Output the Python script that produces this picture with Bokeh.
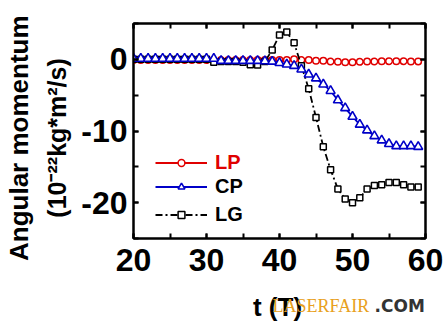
import math
from bokeh.plotting import figure
from bokeh.layouts import column
from bokeh.models import Range1d, LinearAxis, SingleIntervalTicker, Legend, LegendItem
from bokeh.core.properties import value
from bokeh.embed import file_html
from bokeh.resources import INLINE

# ---- data ----
t = list(range(20, 60))
lp = [-0.1] * 20 + [-0.1, -0.1, 0.0, -0.1, -0.1, -0.2, -0.2, -0.3, -0.35, -0.4,
                    -0.4, -0.35, -0.3, -0.3, -0.25, -0.25, -0.25, -0.25, -0.3, -0.3]
cp = [0.1] * 12 + [-0.2, -0.2, -0.2, -0.2, -0.2, -0.2, -0.25, -0.3, -0.5, -0.7,
                   -0.9, -1.4, -2.1, -2.65, -3.5, -4.4, -5.7, -6.8, -8.0, -9.1,
                   -9.9, -10.7, -11.3, -11.8, -12.1, -12.1, -12.1, -12.2]
lg = [0.0] * 11 + [-0.4, -0.3, -0.3, -0.3, -0.4, -0.75, -0.8, -0.3, 1.3, 3.4,
                   3.8, 2.3, -0.9, -4.1, -8.1, -12.2, -15.4, -18.1, -19.5, -20.0,
                   -19.3, -18.1, -17.6, -17.5, -17.2, -17.2, -17.5, -17.8, -17.8]
series_names = ["LP", "CP", "LG"]
y_tick_text = {0: "0", -10: "-10", -20: "-20"}
x_label = "t (T)"
y_label_1 = "Angular momentum"
y_label_2 = "(10\u207b\u00b2\u00b2kg*m\u00b2/s)"
watermark_1 = "LASERFAIR"
watermark_2 = ".COM"

RED = "#e00000"
BLUE = "#0000c8"
BLACK = "#000000"
FONT = "Liberation Sans"
NB = "\u00a0"

W = 443
H_MAIN = 290
H_FOOT = 332 - H_MAIN
FRAME_L, FRAME_R = 133, 425

p = figure(width=W, height=H_MAIN, output_backend="svg", toolbar_location=None,
           x_range=Range1d(20, 60), y_range=Range1d(-25, 5),
           min_border_left=FRAME_L, min_border_right=W - FRAME_R, min_border_top=23,
           min_border_bottom=H_MAIN - 238)
p.grid.visible = False
p.background_fill_color = "white"
p.border_fill_color = "white"
p.outline_line_color = "black"
p.outline_line_width = 2


def style_axis(ax, show_labels):
    ax.ticker = SingleIntervalTicker(interval=10, num_minor_ticks=2)
    ax.major_tick_in = 5
    ax.major_tick_out = 0
    ax.minor_tick_in = 5
    ax.minor_tick_out = 0
    ax.major_tick_line_width = 2
    ax.minor_tick_line_width = 2
    ax.axis_line_width = 2
    ax.major_label_text_font = FONT
    ax.major_label_text_font_style = "bold"
    ax.axis_label_text_font = FONT
    ax.axis_label_text_font_style = "bold"
    ax.axis_label_text_color = "black"
    if show_labels:
        ax.major_label_text_font_size = "32px"
        ax.major_label_text_color = "black"
    else:
        ax.major_label_text_font_size = "1px"
        ax.major_label_text_color = None
        ax.major_label_standoff = 0


xa = p.below[0]
ya = p.left[0]
style_axis(xa, True)
style_axis(ya, True)
xa.major_label_standoff = 10
ya.major_label_standoff = 6
ya.major_label_overrides = y_tick_text

ya.axis_label = y_label_2 + NB * 2
ya.axis_label_text_font_size = "25px"
ya.axis_label_standoff = 7

for loc in ("above", "right"):
    ax = LinearAxis()
    style_axis(ax, False)
    p.add_layout(ax, loc)

# outer left axis that only carries the first line of the y title
ya2 = LinearAxis(axis_label=y_label_1 + NB * 2)
style_axis(ya2, False)
ya2.axis_line_color = None
ya2.major_tick_line_color = None
ya2.minor_tick_line_color = None
ya2.axis_label_text_font_size = "26px"
ya2.axis_label_standoff = 7
p.add_layout(ya2, "left")

# ---- series ----
r_lp_l = p.line(t, lp, line_color=RED, line_width=1.8)
r_lp_m = p.scatter(t, lp, marker="circle", size=6.5, line_color=RED, fill_color="white", line_width=1.5)
r_lg_l = p.line(t, lg, line_color=BLACK, line_width=1.8, line_dash="7 3 2 3")
r_lg_m = p.scatter(t, lg, marker="square", size=6, line_color=BLACK, fill_color="white", line_width=1.5)
r_cp_l = p.line(t, cp, line_color=BLUE, line_width=1.8)
r_cp_m = p.scatter(t, cp, marker="triangle", size=9, line_color=BLUE, fill_color="white", line_width=1.6)


def make_legend(items, color, loc):
    lg_ = Legend(items=items, location=loc, spacing=5, margin=0, padding=0,
                 glyph_width=52, glyph_height=17, label_height=17, label_standoff=8,
                 label_text_font=FONT, label_text_font_style="bold",
                 label_text_font_size="20px", label_text_color=color,
                 border_line_color=None, background_fill_alpha=0)
    p.add_layout(lg_, "center")


make_legend([LegendItem(label=series_names[0], renderers=[r_lp_l, r_lp_m])], RED, (22, 64))
make_legend([LegendItem(label=series_names[1], renderers=[r_cp_l, r_cp_m]),
             LegendItem(label=series_names[2], renderers=[r_lg_l, r_lg_m])], BLACK, (22, 12))

# ---- footer strip: x-axis title and watermark ----
# (the column aligns this strip's frame with the main frame, so its x range is given in page pixels)
f = figure(width=W, height=H_FOOT, output_backend="svg", toolbar_location=None,
           x_range=Range1d(FRAME_L, FRAME_R), y_range=Range1d(0, H_FOOT),
           x_axis_type=None, y_axis_type=None,
           min_border_left=FRAME_L, min_border_right=W - FRAME_R, min_border_top=0, min_border_bottom=0)
f.grid.visible = False
f.outline_line_color = None
f.background_fill_color = "white"
f.border_fill_color = "white"
f.text(x=[277], y=[26], text=[x_label], text_align="center", text_baseline="alphabetic",
       text_font=value(FONT), text_font_style="bold", text_font_size="26px", text_color="black")
f.text(x=[272], y=[27], text=[watermark_1], text_align="left", text_baseline="alphabetic",
       text_font=value("Liberation Serif"), text_font_size="18px", text_color="#e8a020")
f.text(x=[374], y=[27], text=[watermark_2], text_align="left", text_baseline="alphabetic",
       text_font=value("DejaVu Sans"), text_font_style="bold", text_font_size="17px", text_color="#333333")

layout = column(p, f, spacing=0)
open("out.html", "w").write(file_html(layout, INLINE))
